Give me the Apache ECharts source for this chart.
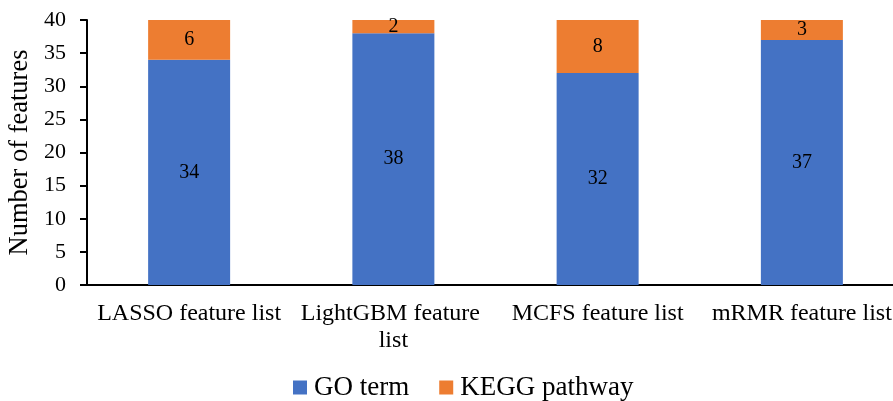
<!DOCTYPE html>
<html>
<head>
<meta charset="utf-8">
<script src="https://cdn.jsdelivr.net/npm/echarts@6/dist/echarts.min.js"></script>
<style>
  html, body { margin: 0; padding: 0; background: #fff; }
  #chart { width: 893px; height: 401px; }
</style>
</head>
<body>
<div id="chart"></div>
<script>
// Feature lists and how many of their features map to GO terms / KEGG pathways
const categories = ['LASSO feature list', 'LightGBM feature list', 'MCFS feature list', 'mRMR feature list'];
const goTerm = [34, 38, 32, 37];
const keggPathway = [6, 2, 8, 3];
const yTicks = { min: 0, max: 40, interval: 5 };

const FONT = '"Liberation Serif", "Times New Roman", serif';
const chart = echarts.init(document.getElementById('chart'), null, { renderer: 'canvas' });

const labelStyle = {
  show: true,
  position: 'inside',
  color: '#000',
  fontFamily: FONT,
  fontSize: 20
};

chart.setOption({
  animation: false,
  color: ['#4472C4', '#ED7D31'],
  grid: { left: 87, right: -11, top: 20, bottom: 116, outerBoundsMode: 'none', containLabel: false },
  legend: {
    top: 369,
    left: 288,
    itemWidth: 14,
    itemHeight: 14,
    itemGap: 30,
    icon: 'rect',
    textStyle: { fontFamily: FONT, fontSize: 27, color: '#000', padding: [0, 0, 0, 2] },
    data: ['GO term', 'KEGG pathway']
  },
  xAxis: {
    type: 'category',
    data: categories,
    axisLine: { lineStyle: { color: '#000', width: 2 } },
    axisTick: { show: false },
    axisLabel: {
      interval: 0,
      margin: 15,
      width: 200,
      overflow: 'break',
      lineHeight: 27,
      color: '#000',
      fontFamily: FONT,
      fontSize: 24
    }
  },
  yAxis: {
    type: 'value',
    min: yTicks.min,
    max: yTicks.max,
    interval: yTicks.interval,
    name: 'Number of features',
    nameLocation: 'middle',
    nameGap: 52,
    nameTextStyle: { fontFamily: FONT, fontSize: 26.5, color: '#000' },
    axisLine: { show: true, lineStyle: { color: '#000', width: 2 } },
    axisTick: { show: true, length: 7, lineStyle: { color: '#000', width: 2 } },
    axisLabel: { margin: 21, color: '#000', fontFamily: FONT, fontSize: 22 },
    splitLine: { show: false }
  },
  series: [
    {
      name: 'GO term',
      type: 'bar',
      stack: 'total',
      barWidth: 82,
      data: goTerm,
      label: labelStyle
    },
    {
      name: 'KEGG pathway',
      type: 'bar',
      stack: 'total',
      barWidth: 82,
      data: keggPathway,
      label: labelStyle
    }
  ]
});
</script>
</body>
</html>
